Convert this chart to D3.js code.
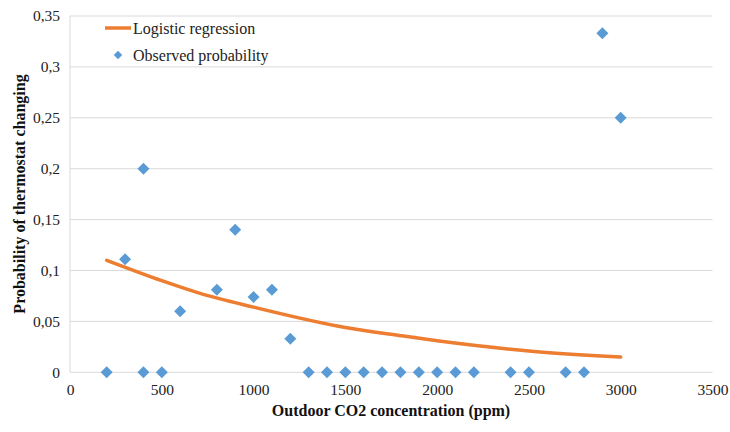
<!DOCTYPE html>
<html><head><meta charset="utf-8">
<script src="https://cdn.jsdelivr.net/npm/d3@7"></script>
<style>body{margin:0;background:#fff}svg{display:block}</style>
</head><body>
<svg id="c" width="730" height="432" font-family="Liberation Serif"></svg>
<script>
const obsX = [200,300,400,400,500,600,800,900,1000,1100,1200,1300,1400,1500,1600,1700,1800,1900,2000,2100,2200,2400,2500,2700,2800,2900,3000];
const obsY = [0,0.111,0.2,0,0,0.06,0.081,0.14,0.074,0.081,0.033,0,0,0,0,0,0,0,0,0,0,0,0,0,0,0.333,0.25];
const fitX = [200,500,700,1000,1500,1800,2000,2500,3000];
const fitY = [0.110,0.090,0.078,0.064,0.044,0.036,0.031,0.021,0.015];
const xTicks = [0,500,1000,1500,2000,2500,3000,3500];
const yTicks = [0,0.05,0.1,0.15,0.2,0.25,0.3,0.35];
const yLabels = ["0","0,05","0,1","0,15","0,2","0,25","0,3","0,35"];

const FONT = "Liberation Serif";
const svg = d3.select("#c");
const x = d3.scaleLinear().domain([0,3500]).range([70,712.5]);
const y = d3.scaleLinear().domain([0,0.35]).range([372.3,16]);

svg.append("g").selectAll("line").data(yTicks).join("line")
  .attr("x1",x(0)).attr("x2",x(3500)).attr("y1",d=>y(d)).attr("y2",d=>y(d))
  .attr("stroke","#d9d9d9").attr("stroke-width",1);
svg.append("line").attr("x1",x(0)).attr("x2",x(0)).attr("y1",y(0)).attr("y2",y(0.35))
  .attr("stroke","#d9d9d9").attr("stroke-width",1);

const ya = d3.axisLeft(y).tickValues(yTicks).tickFormat((d,i)=>yLabels[i]).tickSize(0).tickPadding(10);
const gy = svg.append("g").attr("transform",`translate(${x(0)},0)`).call(ya).attr("font-family",FONT).attr("font-size",15.5);
gy.select(".domain").remove();
gy.selectAll("text").attr("font-family",FONT).attr("font-size",15.5).attr("fill","#222");

const xa = d3.axisBottom(x).tickValues(xTicks).tickFormat(d3.format("d")).tickSize(0).tickPadding(12);
const gx = svg.append("g").attr("transform",`translate(0,${y(0)})`).call(xa).attr("font-family",FONT).attr("font-size",15.5);
gx.select(".domain").remove();
gx.selectAll("text").attr("font-family",FONT).attr("font-size",15.5).attr("fill","#222");

const line = d3.line().x((d,i)=>x(fitX[i])).y(d=>y(d)).curve(d3.curveMonotoneX);
svg.append("path").datum(fitY).attr("d",line).attr("fill","none")
  .attr("stroke","#ED7D31").attr("stroke-width",3.5).attr("stroke-linecap","round");

const diamond = d3.symbol().type(d3.symbolSquare).size(72);
svg.append("g").selectAll("path").data(obsY).join("path")
  .attr("d",diamond)
  .attr("transform",(d,i)=>`translate(${x(obsX[i])},${y(d)}) rotate(45)`)
  .attr("fill","#5B9BD5");

svg.append("text").attr("x",391).attr("y",416).attr("text-anchor","middle").attr("font-family",FONT)
  .attr("font-size",16).attr("font-weight","bold").attr("fill","#111")
  .text("Outdoor CO2 concentration (ppm)");
svg.append("text").attr("transform","translate(25,194) rotate(-90)").attr("text-anchor","middle").attr("font-family",FONT)
  .attr("font-size",16).attr("font-weight","bold").attr("fill","#111")
  .text("Probability of thermostat changing");

svg.append("line").attr("x1",105).attr("x2",131).attr("y1",28).attr("y2",28)
  .attr("stroke","#ED7D31").attr("stroke-width",3.5);
svg.append("text").attr("x",133).attr("y",33.5).attr("font-family",FONT).attr("font-size",16).attr("fill","#222")
  .text("Logistic regression");
svg.append("path").attr("d",d3.symbol().type(d3.symbolSquare).size(36)())
  .attr("transform","translate(118,55) rotate(45)").attr("fill","#5B9BD5");
svg.append("text").attr("x",133).attr("y",60.5).attr("font-family",FONT).attr("font-size",16).attr("fill","#222")
  .text("Observed probability");
</script>
</body></html>
